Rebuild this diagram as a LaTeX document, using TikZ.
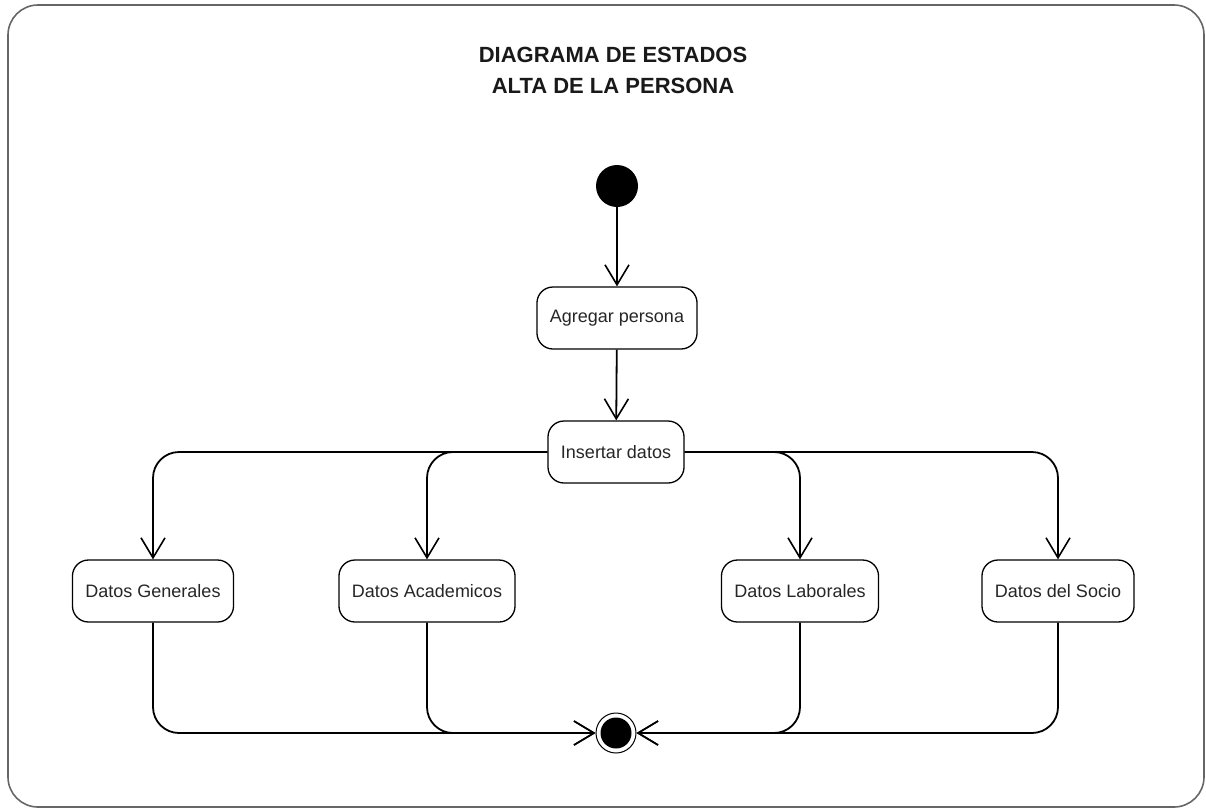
\documentclass[tikz,border=0pt]{standalone}
\usepackage{fontspec}
\setmainfont{Liberation Sans}
\usetikzlibrary{arrows.meta}
\begin{document}
\begin{tikzpicture}[x=1pt,y=-1pt,
  statebox/.style={draw, rounded corners=16pt, line width=1.3pt, minimum height=62pt,
    inner xsep=13pt, font=\fontsize{18}{21}\selectfont, text=black!85},
  flow/.style={line width=1.8pt, rounded corners=26pt,
    -{Straight Barb[length=20pt,width=24pt,line width=1.6pt]}},
  titletext/.style={font=\fontsize{22}{31}\selectfont\bfseries, align=center, text=black!90}]
\useasboundingbox (0,0) rectangle (1206,809);
\draw[rounded corners=30pt, line width=1.6pt, black!60] (8,5) rectangle (1204,807);
\node[titletext] (title) at (613,70) {DIAGRAMA DE ESTADOS\\ALTA DE LA PERSONA};
\node[circle, fill=black, minimum size=42pt, inner sep=0pt] (ini) at (617,186) {};
\node[statebox] (agr) at (617,318) {Agregar persona};
\node[statebox] (ins) at (616,452) {Insertar datos};
\node[statebox] (gen) at (153,591) {Datos Generales};
\node[statebox] (aca) at (427,591) {Datos Academicos};
\node[statebox] (lab) at (800,591) {Datos Laborales};
\node[statebox] (soc) at (1058,591) {Datos del Socio};
\node[circle, draw, line width=1pt, minimum size=40pt, inner sep=0pt] (fin) at (616,733) {};
\fill (fin.center) circle (15.5pt);
\draw[flow] (ini) -- (agr);
\draw[flow] (agr) -- (ins);
\draw[flow] (ins.west) -| (gen.north);
\draw[flow] (ins.west) -| (aca.north);
\draw[flow] (ins.east) -| (lab.north);
\draw[flow] (ins.east) -| (soc.north);
\draw[flow] (gen.south) |- (fin.west);
\draw[flow] (aca.south) |- (fin.west);
\draw[flow] (lab.south) |- (fin.east);
\draw[flow] (soc.south) |- (fin.east);
\end{tikzpicture}
\end{document}
